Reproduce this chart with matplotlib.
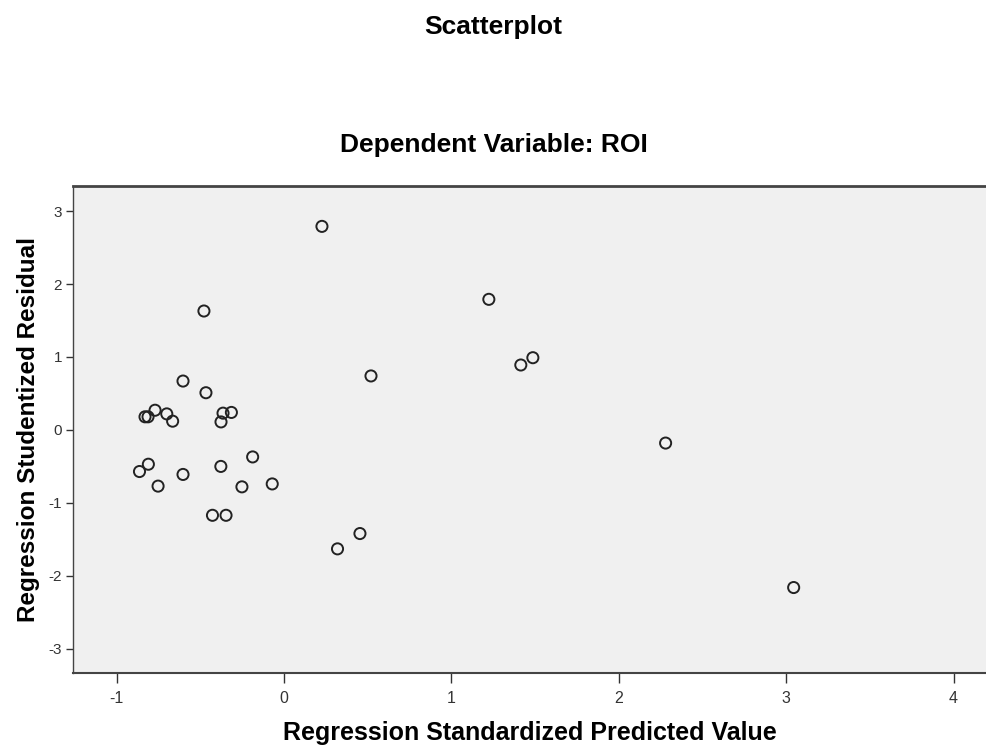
import matplotlib
matplotlib.use("Agg")
import matplotlib.pyplot as plt

plt.rcParams['font.family'] = ['Liberation Sans', 'DejaVu Sans']

# Data
pred = [0.227, 1.224, -0.478, 1.487, 1.415, 0.520, -0.603, -0.466,
        -0.770, -0.830, -0.812, -0.700, -0.665, -0.364, -0.314, -0.376,
        2.280, -0.187, -0.810, -0.863, -0.377, -0.603, -0.752, -0.251,
        -0.070, -0.427, -0.346, 0.454, 0.320, 3.045]
resid = [2.79, 1.79, 1.63, 0.99, 0.89, 0.74, 0.67, 0.51,
         0.27, 0.18, 0.18, 0.22, 0.12, 0.23, 0.24, 0.11,
         -0.18, -0.37, -0.47, -0.57, -0.50, -0.61, -0.77, -0.78,
         -0.74, -1.17, -1.17, -1.42, -1.63, -2.16]
xticks = [-1, 0, 1, 2, 3, 4]
yticks = [-3, -2, -1, 0, 1, 2, 3]

fig = plt.figure(figsize=(9.87, 7.51), dpi=100)
ax = fig.add_axes([0.074, 0.104, 0.926, 0.648])
ax.set_facecolor('#F0F0F0')
ax.scatter(pred, resid, s=64, facecolors='none', edgecolors='#222222', linewidths=1.4, zorder=3)

ax.set_xlim(-1.26, 4.2)
ax.set_ylim(-3.33, 3.34)
ax.set_xticks(xticks)
ax.set_yticks(yticks)
ax.set_xticklabels([str(v) for v in xticks], fontsize=11.5, color='#333333')
ax.set_yticklabels([str(v) for v in yticks], fontsize=11, color='#333333')
ax.tick_params(axis='x', direction='out', length=7, width=1, color='#333333', pad=6)
ax.tick_params(axis='y', direction='out', length=5, width=1, color='#333333', pad=3)

for s in ['top', 'left', 'bottom']:
    ax.spines[s].set_color('#444444')
ax.spines['top'].set_linewidth(2.0)
ax.spines['bottom'].set_linewidth(1.5)
ax.spines['left'].set_linewidth(1.0)
ax.spines['right'].set_visible(False)

ax.set_xlabel('Regression Standardized Predicted Value', fontsize=18, fontweight='bold', labelpad=11)
ax.set_ylabel('Regression Studentized Residual', fontsize=17.5, fontweight='bold', labelpad=6)

fig.text(0.5, 1 - 27/751, 'Scatterplot', ha='center', va='center', fontsize=19, fontweight='bold')
fig.text(0.5, 1 - 145/751, 'Dependent Variable: ROI', ha='center', va='center', fontsize=19, fontweight='bold')

fig.savefig('out.png', dpi=100)
